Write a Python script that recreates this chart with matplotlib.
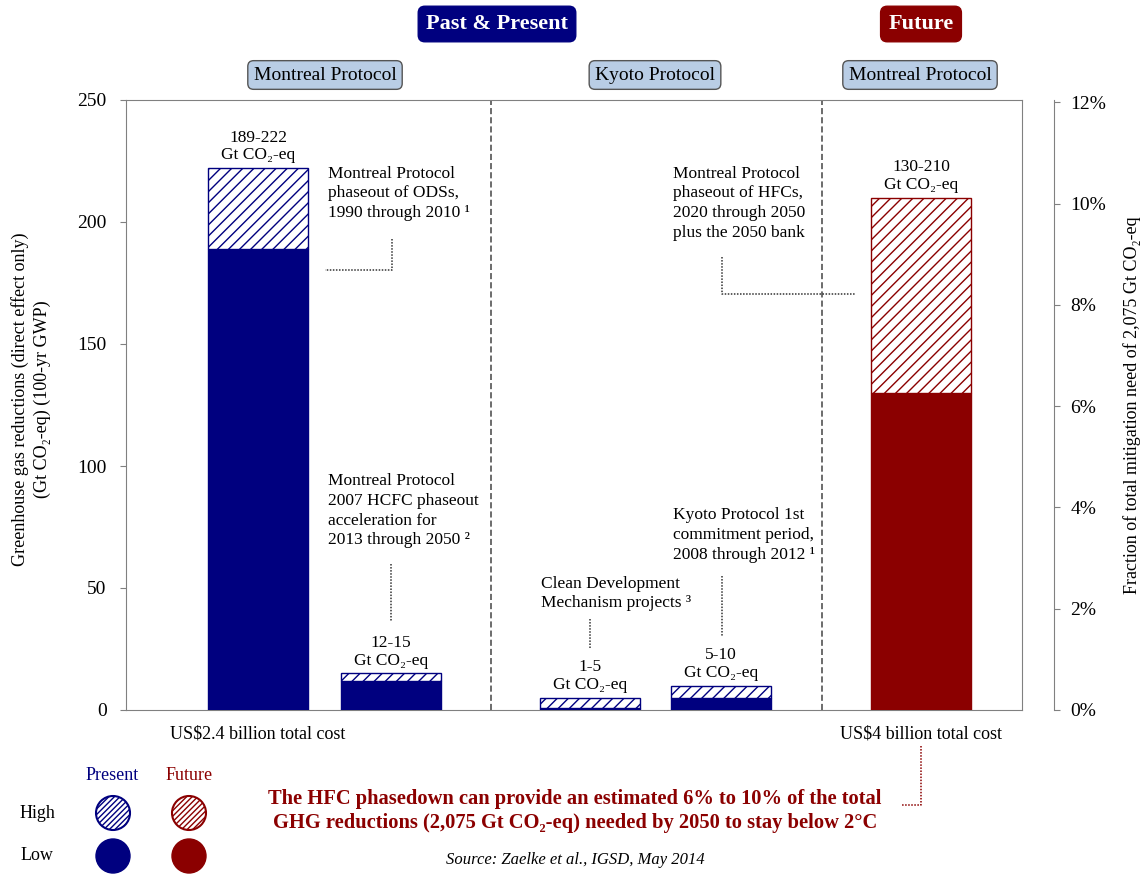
import matplotlib
matplotlib.use("Agg")
import matplotlib.pyplot as plt
from matplotlib.patches import Circle
from matplotlib.ticker import FuncFormatter

plt.rcParams["font.family"] = ["Liberation Serif", "DejaVu Serif"]
plt.rcParams["hatch.linewidth"] = 1.0

NAVY = "#00007f"
DARKRED = "#8b0000"
BOXBLUE = "#b9cde5"

# data
bar_labels = ["189-222", "12-15", "1-5", "5-10", "130-210"]
low_values = [189, 12, 1, 5, 130]
high_values = [222, 15, 5, 10, 210]
bar_colors = [NAVY, NAVY, NAVY, NAVY, DARKRED]
total_need = 2075
left_ticks = [0, 50, 100, 150, 200, 250]
right_ticks = [0, 2, 4, 6, 8, 10, 12]

positions = [1.32, 2.65, 4.64, 5.95, 7.95]
dividers = [3.65, 6.96]

fig = plt.figure(figsize=(11.46, 8.74), dpi=100)
ax = fig.add_axes([126 / 1146, 1 - 710 / 874, 896 / 1146, 610 / 874])

for x, lo, hi, col, lab in zip(positions, low_values, high_values, bar_colors, bar_labels):
    ax.bar(x, lo, width=1.0, color=col, edgecolor=col, linewidth=1, zorder=3)
    ax.bar(x, hi - lo, width=1.0, bottom=lo, facecolor="white", edgecolor=col,
           hatch="///", linewidth=1, zorder=3)
    ax.text(x, hi + 2, f"{lab}\nGt CO\u2082-eq", ha="center", va="bottom",
            fontsize=12.5, linespacing=1.15)

for d in dividers:
    ax.axvline(d, color="#444444", linestyle=(0, (4, 2)), linewidth=1.1, zorder=2)

ax.set_xlim(0, 8.96)
ax.set_ylim(0, 250)
ax.set_xticks([])
ax.set_yticks(left_ticks)
ax.tick_params(axis="y", labelsize=14, length=4, color="#808080", pad=10)
for s in ax.spines.values():
    s.set_color("#808080")
ax.set_ylabel("Greenhouse gas reductions (direct effect only)\n(Gt CO\u2082-eq) (100-yr GWP)",
              fontsize=13, linespacing=1.3)
ax.yaxis.set_label_coords(-0.084, 0.51)

# right axis in percent of the total need
ax2 = ax.twinx()
ax2.set_ylim(0, 250 / total_need * 100)
ax2.set_yticks(right_ticks)
ax2.yaxis.set_major_formatter(FuncFormatter(lambda v, p: f"{v:.0f}%"))
ax2.spines["right"].set_position(("outward", 23))
for side in ["top", "left", "bottom"]:
    ax2.spines[side].set_visible(False)
ax2.spines["right"].set_color("#808080")
ax2.tick_params(axis="y", labelsize=14, length=4, color="#808080", pad=8)
ax2.set_ylabel("Fraction of total mitigation need of 2,075 Gt CO\u2082-eq", fontsize=13)
ax2.yaxis.set_label_coords(1.113, 0.5)

# notes on the bars
note_kw = dict(ha="left", va="top", fontsize=12.5, linespacing=1.3)
ax.text(2.02, 223, "Montreal Protocol\nphaseout of ODSs,\n1990 through 2010 \u00b9", **note_kw)
ax.text(2.02, 97, "Montreal Protocol\n2007 HCFC phaseout\nacceleration for\n2013 through 2050 \u00b2", **note_kw)
ax.text(4.15, 55, "Clean Development\nMechanism projects \u00b3", **note_kw)
ax.text(5.47, 83, "Kyoto Protocol 1st\ncommitment period,\n2008 through 2012 \u00b9", **note_kw)
ax.text(5.47, 223, "Montreal Protocol\nphaseout of HFCs,\n2020 through 2050\nplus the 2050 bank", **note_kw)

dot_kw = dict(color="#333333", linestyle=(0, (1, 1)), linewidth=1.1, zorder=4)
ax.plot([2.66, 2.66, 1.99], [193, 180.3, 180.3], **dot_kw)
ax.plot([2.65, 2.65], [60, 36], **dot_kw)
ax.plot([4.64, 4.64], [37.5, 25.5], **dot_kw)
ax.plot([5.96, 5.96], [55, 30], **dot_kw)
ax.plot([5.96, 5.96, 7.29], [185.7, 170.5, 170.5], **dot_kw)

# overlay in pixel coordinates for headers and footer
lay = fig.add_axes([0, 0, 1, 1], zorder=5)
lay.set_xlim(0, 1146)
lay.set_ylim(874, 0)
lay.axis("off")
lay.patch.set_alpha(0)

hdr = dict(ha="center", va="center", color="white", fontsize=16, fontweight="bold")
lay.text(497, 24, "Past & Present", bbox=dict(boxstyle="round,pad=0.35,rounding_size=0.3",
                                             fc=NAVY, ec=NAVY), **hdr)
lay.text(921, 24, "Future", bbox=dict(boxstyle="round,pad=0.35,rounding_size=0.3",
                                      fc=DARKRED, ec=DARKRED), **hdr)
for cx, t in [(325, "Montreal Protocol"), (655, "Kyoto Protocol"), (920, "Montreal Protocol")]:
    lay.text(cx, 75, t, ha="center", va="center", fontsize=14,
             bbox=dict(boxstyle="round,pad=0.3,rounding_size=0.3", fc=BOXBLUE, ec="#555555", lw=1))

lay.text(258, 734, "US$2.4 billion total cost", ha="center", va="center", fontsize=13)
lay.text(921, 734, "US$4 billion total cost", ha="center", va="center", fontsize=13)
lay.plot([921, 921, 902], [746, 805, 805], color=DARKRED, linestyle=(0, (1, 1)), linewidth=1.1)

# legend
lay.text(112, 775, "Present", ha="center", va="center", fontsize=13, color=NAVY)
lay.text(189, 775, "Future", ha="center", va="center", fontsize=13, color=DARKRED)
lay.text(37, 813, "High", ha="center", va="center", fontsize=13)
lay.text(37, 856, "Low", ha="center", va="center", fontsize=13)
for cx, col in [(113, NAVY), (189, DARKRED)]:
    lay.add_patch(Circle((cx, 813), 17, facecolor="white", edgecolor=col, hatch="//////", lw=1.5))
    lay.add_patch(Circle((cx, 856), 17, facecolor=col, edgecolor=col))

lay.text(575, 811, "The HFC phasedown can provide an estimated 6% to 10% of the total\n"
         "GHG reductions (2,075 Gt CO\u2082-eq) needed by 2050 to stay below 2\u00b0C",
         ha="center", va="center", fontsize=14.8, fontweight="bold", color=DARKRED,
         linespacing=1.25)
lay.text(575, 860, "Source: Zaelke et al., IGSD, May 2014", ha="center", va="center",
         fontsize=12, style="italic")

fig.savefig("out.png", dpi=100)
